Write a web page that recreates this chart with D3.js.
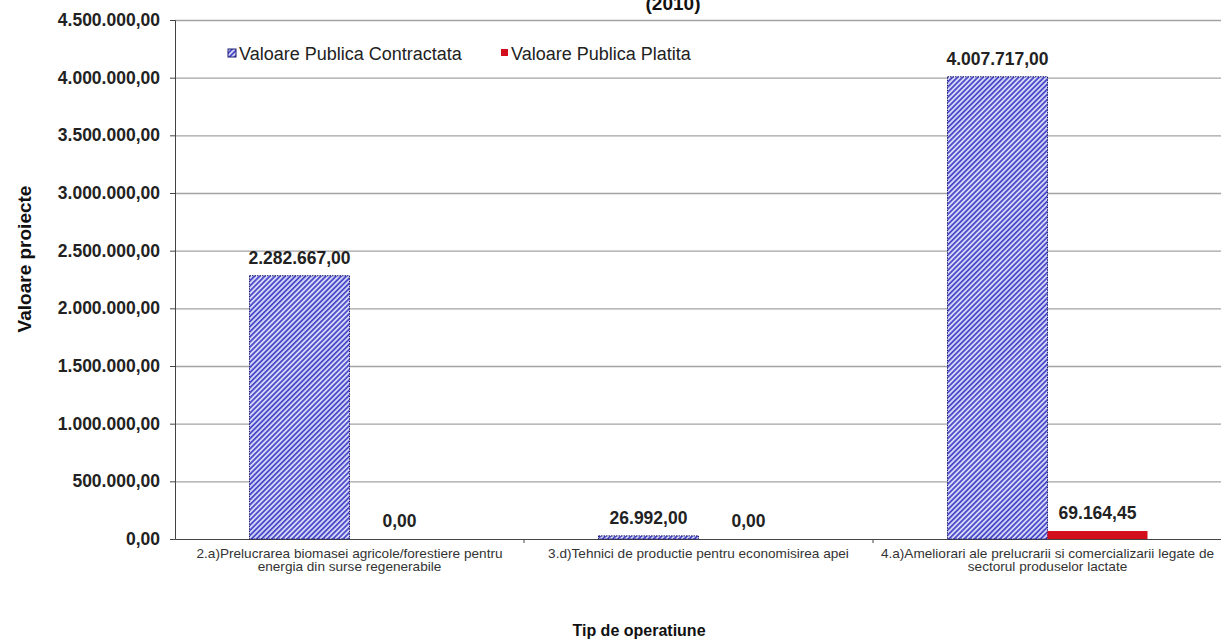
<!DOCTYPE html>
<html>
<head>
<meta charset="utf-8">
<script src="https://cdn.jsdelivr.net/npm/d3@7"></script>
<style>
  html, body { margin: 0; padding: 0; background: #fff; }
  svg { display: block; font-family: "Liberation Sans", Arial, sans-serif; }
</style>
</head>
<body>
<svg id="chart"></svg>
<script>
// data
const categories = ['2.a', '3.d', '4.a']
const categoryLabels = [
  ['2.a)Prelucrarea biomasei agricole/forestiere pentru', 'energia din surse regenerabile'],
  ['3.d)Tehnici de productie pentru economisirea apei'],
  ['4.a)Ameliorari ale prelucrarii si comercializarii legate de', 'sectorul produselor lactate']
]
const seriesNames = ['Valoare Publica Contractata', 'Valoare Publica Platita']
const valContractata = [2282667, 26992, 4007717]
const valPlatita = [0, 0, 69164.45]
const yTicks = [0, 500000, 1000000, 1500000, 2000000, 2500000, 3000000, 3500000, 4000000, 4500000]

const W = 1221, H = 640
const margin = { top: 20, left: 175, bottom: 101 }
const plotRight = 1222

const svg = d3.select('#chart').attr('width', W).attr('height', H)

const ro = d3.formatLocale({ decimal: ',', thousands: '.', grouping: [3], currency: ['', ''] })
const fmt = ro.format(',.2f')

const y = d3.scaleLinear().domain([0, 4500000]).range([H - margin.bottom, margin.top])
const x = d3.scaleBand().domain(categories).range([margin.left, plotRight]).padding(0)
const xs = d3.scaleBand().domain(seriesNames).range([0, x.bandwidth()]).paddingInner(0).paddingOuter(0.745)

// hatch pattern
const defs = svg.append('defs')
const pat = defs.append('pattern')
  .attr('id', 'hatch')
  .attr('patternUnits', 'userSpaceOnUse')
  .attr('width', 3.6).attr('height', 3.6)
  .attr('patternTransform', 'rotate(45)')
pat.append('rect').attr('width', 3.6).attr('height', 3.6).attr('fill', '#d6d6f7')
pat.append('line').attr('x1', 0.9).attr('y1', 0).attr('x2', 0.9).attr('y2', 3.6)
  .attr('stroke', '#4444c8').attr('stroke-width', 1.7)

const colors = ['url(#hatch)', '#d40f1c']
const strokes = ['#1c1c70', 'none']

// title (only its last line is visible)
svg.append('text')
  .attr('x', 673).attr('y', 10)
  .attr('text-anchor', 'middle')
  .attr('font-size', 19).attr('font-weight', 'bold').attr('fill', '#111')
  .text('(2010)')

// grid lines
svg.append('g')
  .attr('transform', `translate(${margin.left},0)`)
  .call(d3.axisLeft(y).tickValues(yTicks.slice(1)).tickSize(-(plotRight - margin.left)).tickFormat(''))
  .call(g => g.select('.domain').remove())
  .call(g => g.selectAll('line').attr('stroke', '#a3a3a3').attr('stroke-width', 1.3))

// y axis
svg.append('g')
  .attr('transform', `translate(${margin.left},0)`)
  .call(d3.axisLeft(y).tickValues(yTicks).tickSize(5).tickPadding(10).tickFormat(fmt))
  .call(g => g.select('.domain').attr('stroke', '#444'))
  .call(g => g.selectAll('line').attr('stroke', '#444'))
  .call(g => g.selectAll('text')
    .attr('font-size', 17.5)
    .attr('font-weight', 'bold')
    .attr('font-family', '"Liberation Sans", Arial, sans-serif')
    .attr('fill', '#222'))

// x axis
svg.append('g')
  .attr('transform', `translate(0,${y(0)})`)
  .call(d3.axisBottom(x).tickSize(0).tickFormat(''))
  .call(g => g.select('.domain').attr('stroke', '#444'))
svg.append('g')
  .selectAll('line')
  .data(categories.slice(1))
  .join('line')
  .attr('x1', d => x(d)).attr('x2', d => x(d))
  .attr('y1', y(0)).attr('y2', y(0) + 4)
  .attr('stroke', '#444')

// category labels
categories.forEach((c, i) => {
  categoryLabels[i].forEach((line, j) => {
    svg.append('text')
      .attr('x', x(c) + x.bandwidth() / 2)
      .attr('y', y(0) + 19 + j * 13)
      .attr('text-anchor', 'middle')
      .attr('font-size', 13.6).attr('fill', '#333')
      .text(line)
  })
})

// bars
const series = [valContractata, valPlatita]
series.forEach((vals, si) => {
  const gs = svg.append('g')
  gs.selectAll('rect')
    .data(vals)
    .join('rect')
    .attr('x', (d, i) => x(categories[i]) + xs(seriesNames[si]))
    .attr('width', xs.bandwidth())
    .attr('y', d => y(d))
    .attr('height', d => y(0) - y(d))
    .attr('fill', colors[si])
    .attr('stroke', strokes[si])
    .attr('stroke-width', 1)
    .attr('stroke-dasharray', si === 0 ? '1.5,1' : null)
  gs.selectAll('text')
    .data(vals)
    .join('text')
    .attr('x', (d, i) => x(categories[i]) + xs(seriesNames[si]) + xs.bandwidth() / 2)
    .attr('y', d => y(d) - 12)
    .attr('text-anchor', 'middle')
    .attr('font-size', 17.5).attr('font-weight', 'bold').attr('fill', '#222')
    .text(d => fmt(d))
})

// legend
const leg = svg.append('g')
leg.append('rect').attr('x', 228).attr('y', 49).attr('width', 8).attr('height', 8)
  .attr('fill', colors[0]).attr('stroke', strokes[0])
leg.append('text').attr('x', 239).attr('y', 59.5)
  .attr('font-size', 18).attr('fill', '#222').text(seriesNames[0])
leg.append('rect').attr('x', 501).attr('y', 49).attr('width', 7).attr('height', 7)
  .attr('fill', colors[1])
leg.append('text').attr('x', 511).attr('y', 59.5)
  .attr('font-size', 18).attr('fill', '#222').text(seriesNames[1])

// axis titles
svg.append('text')
  .attr('transform', `translate(31,259) rotate(-90)`)
  .attr('text-anchor', 'middle')
  .attr('font-size', 19).attr('font-weight', 'bold').attr('fill', '#111')
  .text('Valoare proiecte')
svg.append('text')
  .attr('x', 639).attr('y', 636)
  .attr('text-anchor', 'middle')
  .attr('font-size', 16).attr('font-weight', 'bold').attr('fill', '#111')
  .text('Tip de operatiune')
</script>
</body>
</html>
